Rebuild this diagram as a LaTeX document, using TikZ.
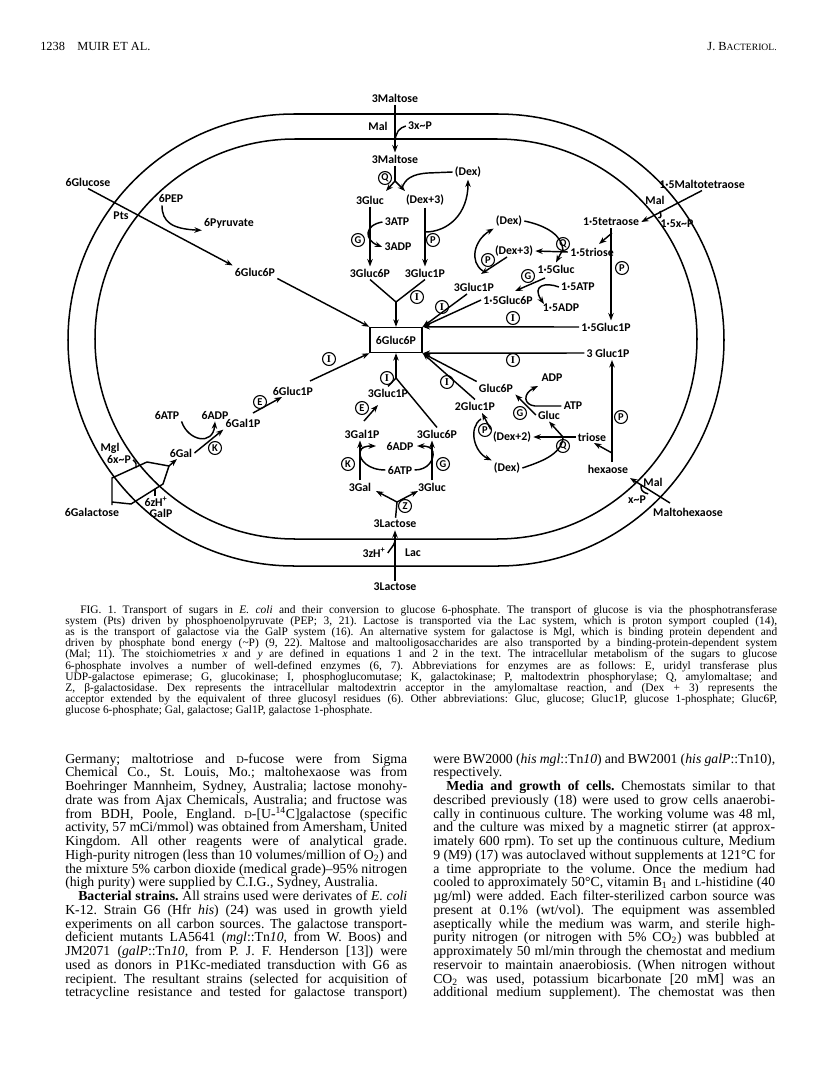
\documentclass[tikz,border=0pt]{standalone}
\usepackage{fontspec}
\setmainfont{Liberation Serif}
\newfontfamily\carl{Carlito}
\usetikzlibrary{arrows.meta,calc}
\frenchspacing
\newcommand\jline[2]{\makebox[#1][s]{#2}}
\newcommand\smD{{\fontsize{7.6}{9}\selectfont D}}
\newcommand\smL{{\fontsize{7.6}{9}\selectfont L}}
\newcommand\capw{517.6pt}
\newcommand\capf{506.7pt}
\newcommand\colw{248.6pt}
\newcommand\coli{239.2pt}
\begin{document}
\begin{tikzpicture}[x=0.727pt,y=-0.727pt,
  lab/.style={font=\carl\bfseries\fontsize{8.6}{10}\selectfont,inner sep=0.5pt,outer sep=1.2pt},
  enz/.style={circle,draw,line width=0.8pt,inner sep=0pt,minimum size=9.4pt,font=\carl\bfseries\fontsize{7.6}{7.6}\selectfont},
  ln/.style={line width=1.05pt},
  ar/.style={line width=1.05pt,-{Stealth[length=5.4pt,width=4pt]}},
  memb/.style={line width=1.1pt},
  txt/.style={anchor=base west,inner sep=0pt,font=\fontsize{10}{10}\selectfont},
  captxt/.style={anchor=base west,inner sep=0pt,font=\fontsize{8.3}{8.4}\selectfont},
  hdr/.style={anchor=base west,inner sep=0pt,font=\fontsize{9}{10}\selectfont},
]
\useasboundingbox (0,0) rectangle (816,1077);
\fill[white] (0,0) rectangle (816,1077);

% ---------- header ----------
\node[hdr] (pg) at (40,50) {1238};
\node[hdr] (au) at (77,50) {MUIR ET AL.};
\node[hdr,anchor=base east] (jn) at (777,50) {J. B{\fontsize{7}{8}\selectfont ACTERIOL.}};

% ---------- cell envelope ----------
\draw[memb] (294,114) -- (498,114) arc[start angle=-90,end angle=90,radius=226] -- (294,566) arc[start angle=90,end angle=270,radius=226] -- cycle;
\draw[memb] (295,139) -- (497,139) arc[start angle=-90,end angle=90,radius=200] -- (295,539) arc[start angle=90,end angle=270,radius=200] -- cycle;

% ---------- maltose (top) ----------
\node[lab] (maltO) at (395,98) {3Maltose};
\node[lab] (malT) at (378,126) {Mal};
\node[lab] (xpT) at (420,126) {3x\textasciitilde P};
\node[lab] (maltI) at (395,159) {3Maltose};
\node[enz] (qT) at (385,178) {Q};
\coordinate (splT) at (395,181);
\node[lab] (glc3) at (370,200) {3Gluc};
\node[lab] (dxp3) at (425,200) {(Dex+3)};
\node[lab] (dexT) at (468,172) {(Dex)};
\node[lab] (atp3) at (397,222) {3ATP};
\node[lab] (adp3) at (398,247) {3ADP};
\node[enz] (gT) at (358,240) {G};
\node[enz] (pT) at (433,240) {P};
\node[lab] (g6p3) at (370,273) {3Gluc6P};
\node[lab] (g1p3) at (425,273) {3Gluc1P};
\node[enz] (iT) at (417,297) {\rmfamily I};
\coordinate (mrgT) at (396,302);
\node[lab,draw,line width=1.05pt,minimum width=37.8pt,minimum height=18.2pt,outer sep=0.5pt] (box) at (396,340) {6Gluc6P};

\draw[ar] (maltO) -- (maltI);
\draw[ln] (xpT.west) .. controls (399,128) and (396,132) .. (395,141);
\draw[ln] (maltI) -- (splT);
\draw[ar] (splT) -- (386,191);
\draw[ar] (splT) -- (405,191);
\draw[ln] (dexT.west) -- (428,173) .. controls (412,174) and (405,179) .. (402,188);
\draw[ar] (glc3) -- (g6p3);
\draw[ar] (dxp3) -- (g1p3);
\draw[ar] (atp3.west) .. controls (364,225) and (364,240) .. (adp3.west);
\draw[ar] (425,232) .. controls (448,232) and (468,214) .. (dexT.south);
\draw[ln] (g6p3.south) -- (mrgT);
\draw[ln] (g1p3.south) -- (mrgT);
\draw[ar] (mrgT) -- (box);

% ---------- glucose (left) ----------
\node[lab] (glcO) at (88,182) {6Glucose};
\node[lab] (pts) at (121,216) {Pts};
\node[lab] (pep) at (171,199) {6PEP};
\node[lab] (pyr) at (229,223) {6Pyruvate};
\node[lab] (g6pL) at (255,272) {6Gluc6P};
\draw[ar] (glcO.south) -- (g6pL.north west);
\draw[ar] ([xshift=4pt]pep.south west) .. controls (162,222) and (172,229) .. (pyr.south west);
\draw[ar] (g6pL.south east) -- (box.north west);

% ---------- maltotetraose (upper right) ----------
\node[lab] (tetO) at (702,184) {1·5Maltotetraose};
\node[lab] (malR) at (655,200) {Mal};
\node[lab] (xpR) at (677,224) {1·5x\textasciitilde P};
\node[lab] (tet) at (611,222) {1·5tetraose};
\node[lab] (dexB) at (509,221) {(Dex)};
\node[lab] (dx3b) at (514,251) {(Dex+3)};
\node[lab] (tri15) at (592,252) {1·5triose};
\node[enz] (qM) at (563,244) {Q};
\node[enz] (pM) at (622,268) {P};
\node[lab] (gl15) at (556,269) {1·5Gluc};
\node[enz] (gM) at (528,276) {G};
\node[lab] (atp15) at (578,287) {1·5ATP};
\node[lab] (adp15) at (561,308) {1·5ADP};
\node[lab] (g1p3b) at (474,287) {3Gluc1P};
\node[enz] (pM2) at (488,260) {P};
\node[lab] (g6p15) at (508,300) {1·5Gluc6P};
\node[enz] (i2) at (442,307) {\rmfamily I};
\node[lab] (g1p15) at (606,327) {1·5Gluc1P};
\node[enz] (i3) at (513,318) {\rmfamily I};

\draw[ar] (tetO.south) -- (tet.east);
\draw[ln] (xpR.north west) .. controls (662,218) and (661,215) .. (660,211);
\draw[ar] (tet.south) -- (tet.south |- g1p15.north);
\draw[ar] (612,233) -- (599,244);
\draw[ar] (tri15.west) -- (dx3b.east);
\draw[ln] (dexB.east) .. controls (548,226) and (562,236) .. (563,250);
\draw[ar] (562,251) -- (gl15.north);
\draw[ar] (507,257) -- (481,274);
\draw[ar] (483,271) .. controls (469,262) and (474,240) .. (dexB.south west);
\draw[ar] (545,278) -- (515,291);
\draw[ar] (atp15.west) .. controls (546,282) and (531,285) .. (544,304);
\draw[ar] (467,294) -- (box.north east);
\draw[ar] (g6p15.west) -- (box.north east);
\draw[ar] (g1p15.west) -- (box.north east);

% ---------- maltohexaose (lower right) ----------
\node[lab] (g1p3c) at (608,353) {3 Gluc1P};
\node[enz] (i4) at (513,360) {\rmfamily I};
\node[lab] (g6pc) at (496,388) {Gluc6P};
\node[lab] (adpc) at (552,378) {ADP};
\node[lab] (atpc) at (573,406) {ATP};
\node[lab] (glcc) at (549,415) {Gluc};
\node[enz] (gc) at (520,413) {G};
\node[lab] (g1p2) at (475,406) {2Gluc1P};
\node[enz] (i5) at (447,382) {\rmfamily I};
\node[lab] (dx2) at (512,437) {(Dex+2)};
\node[enz] (pc) at (485,430) {P};
\node[lab] (tri) at (592,437) {triose};
\node[enz] (qc) at (563,446) {Q};
\node[lab] (dexC) at (507,468) {(Dex)};
\node[lab] (hex) at (608,469) {hexaose};
\node[enz] (pr) at (621,417) {P};
\node[lab] (hexO) at (688,512) {Maltohexaose};
\node[lab] (malH) at (653,482) {Mal};
\node[lab] (xpH) at (637,500) {x\textasciitilde P};

\draw[ar] (g1p3c.west) -- (box.south east);
\draw[ar] (g6pc.north west) -- (box.south east);
\draw[ar] (g1p2.north) -- (box.south east);
\draw[ar] (glcc.west) -- (g6pc.south east);
\draw[ar] (atpc.west) -- (535,406) .. controls (524,405) and (522,394) .. (538,386);
\draw[ar] (tri.west) -- (dx2.east);
\draw[ar] (563,437) -- (glcc.south);
\draw[ln] (dexC.east) .. controls (540,462) and (561,455) .. (563,438);
\draw[ar] (dx2.north west) -- (482,413);
\draw[ar] (481,419) .. controls (468,428) and (474,452) .. (dexC.north west);
\draw[ar] (612,462) -- (612,360);
\draw[ar] (612,453) -- (594,443);
\draw[ar] (670,503) -- (630,478);
\draw[ln] (xpH.north east) .. controls (641,492) and (641,489) .. (641,485);

% ---------- galactose (lower left) ----------
\node[lab] (g1p6) at (293,391) {6Gluc1P};
\node[enz] (i6) at (329,359) {\rmfamily I};
\node[lab] (gal1p6) at (243,423) {6Gal1P};
\node[enz] (e1) at (260,402) {E};
\node[lab] (adp6) at (215,415) {6ADP};
\node[lab] (atp6) at (167,415) {6ATP};
\node[lab] (gal6) at (181,453) {6Gal};
\node[enz] (k1) at (215,448) {K};
\node[lab] (galO) at (92,512) {6Galactose};
\node[lab] (mgl) at (110,448) {Mgl};
\node[lab] (xpM) at (119,459) {6x\textasciitilde P};
\node[lab] (zh6) at (156,502) {6zH\textsuperscript{+}};
\node[lab] (galp) at (161,513) {GalP};
\coordinate (galJ) at (169,466);

\draw[ar] (310,381) -- (box.south west);
\draw[ar] (253,413) -- (282,397);
\draw[ar] (gal6.east) -- (gal1p6.south west);
\draw[ar] (atp6.south east) .. controls (188,441) and (213,446) .. (adp6.south);
\draw[ln] (112,505) -- (112,478) -- (147,462) -- (galJ);
\draw[ln] (112,502) -- (131,504) -- (163,484) -- (galJ);
\draw[ar] (galJ) -- (177,459);
\draw[ln] (133,460) .. controls (136,462) and (137,465) .. (136,468);
\draw[ln] (155,496) .. controls (155,493) and (155,491) .. (155,489);

% ---------- lactose (bottom) ----------
\node[lab] (lacO) at (395,587) {3Lactose};
\node[lab] (lacI) at (395,524) {3Lactose};
\node[lab] (zh3) at (374,553) {3zH\textsuperscript{+}};
\node[lab] (lacL) at (413,553) {Lac};
\node[lab] (gal3) at (360,487) {3Gal};
\node[lab] (glc3b) at (432,487) {3Gluc};
\node[enz] (zz) at (405,506) {Z};
\node[lab] (gal1p3) at (362,434) {3Gal1P};
\node[lab] (g6p3d) at (437,434) {3Gluc6P};
\node[lab] (adp6b) at (400,446) {6ADP};
\node[lab] (atp6b) at (400,470) {6ATP};
\node[enz] (k2) at (348,464) {K};
\node[enz] (g2) at (443,464) {G};
\node[lab] (g1p3d) at (388,393) {3Gluc1P};
\node[enz] (e2) at (362,408) {E};
\node[enz] (i7) at (387,378) {\rmfamily I};
\coordinate (zs) at (397,502);
\coordinate (mrgB) at (396,378);

\draw[ar] (lacO) -- (lacI);
\draw[ln] (zh3.east) .. controls (390,549) and (394,546) .. (395,541);
\draw[ln] (lacI) -- (zs);
\draw[ar] (zs) -- (376,491);
\draw[ar] (zs) -- (418,491);
\draw[ar] (gal3.north) -- (gal3.north |- gal1p3.south);
\draw[ar] (glc3b.north) -- (glc3b.north |- g6p3d.south);
\draw[ar] (atp6b.west) .. controls (368,470) and (359,460) .. (360,452) .. controls (361,447) and (366,446) .. (376,446);
\draw[ar] (atp6b.east) .. controls (428,470) and (434,460) .. (433,452) .. controls (432,447) and (427,446) .. (417,446);
\draw[ar] (364,421) -- (378,405);
\draw[ln] (g1p3d.north) -- (mrgB);
\draw[ln] (g6p3d.north) -- (mrgB);
\draw[ar] (mrgB) -- (box);

% ---------- caption ----------
\node[captxt] (c1) at (80,613) {\jline{\capf}{FIG. 1. Transport of sugars in \textit{E. coli} and their conversion to glucose 6-phosphate. The transport of glucose is via the phosphotransferase}};
\node[captxt] (c2) at (65,624.2) {\jline{\capw}{system (Pts) driven by phosphoenolpyruvate (PEP; 3, 21). Lactose is transported via the Lac system, which is proton symport coupled (14),}};
\node[captxt] (c3) at (65,635.4) {\jline{\capw}{as is the transport of galactose via the GalP system (16). An alternative system for galactose is Mgl, which is binding protein dependent and}};
\node[captxt] (c4) at (65,646.6) {\jline{\capw}{driven by phosphate bond energy (\textasciitilde P) (9, 22). Maltose and maltooligosaccharides are also transported by a binding-protein-dependent system}};
\node[captxt] (c5) at (65,657.8) {\jline{\capw}{(Mal; 11). The stoichiometries \textit{x} and \textit{y} are defined in equations 1 and 2 in the text. The intracellular metabolism of the sugars to glucose}};
\node[captxt] (c6) at (65,669) {\jline{\capw}{6-phosphate involves a number of well-defined enzymes (6, 7). Abbreviations for enzymes are as follows: E, uridyl transferase plus}};
\node[captxt] (c7) at (65,680.2) {\jline{\capw}{UDP-galactose epimerase; G, glucokinase; I, phosphoglucomutase; K, galactokinase; P, maltodextrin phosphorylase; Q, amylomaltase; and}};
\node[captxt] (c8) at (65,691.4) {\jline{\capw}{Z, β-galactosidase. Dex represents the intracellular maltodextrin acceptor in the amylomaltase reaction, and (Dex + 3) represents the}};
\node[captxt] (c9) at (65,702.6) {\jline{\capw}{acceptor extended by the equivalent of three glucosyl residues (6). Other abbreviations: Gluc, glucose; Gluc1P, glucose 1-phosphate; Gluc6P,}};
\node[captxt] (c10) at (65,713.8) {glucose 6-phosphate; Gal, galactose; Gal1P, galactose 1-phosphate.};

% ---------- left column ----------
\node[txt] (l1) at (65,763) {\jline{\colw}{Germany; maltotriose and \smD-fucose were from Sigma}};
\node[txt] (l2) at (65,776.75) {\jline{\colw}{Chemical Co., St. Louis, Mo.; maltohexaose was from}};
\node[txt] (l3) at (65,790.5) {\jline{\colw}{Boehringer Mannheim, Sydney, Australia; lactose monohy-}};
\node[txt] (l4) at (65,804.25) {\jline{\colw}{drate was from Ajax Chemicals, Australia; and fructose was}};
\node[txt] (l5) at (65,818) {\jline{\colw}{from BDH, Poole, England. \smD-[U-\textsuperscript{14}C]galactose (specific}};
\node[txt] (l6) at (65,831.75) {\jline{\colw}{activity, 57 mCi/mmol) was obtained from Amersham, United}};
\node[txt] (l7) at (65,845.5) {\jline{\colw}{Kingdom. All other reagents were of analytical grade.}};
\node[txt] (l8) at (65,859.25) {\jline{\colw}{High-purity nitrogen (less than 10 volumes/million of O\textsubscript{2}) and}};
\node[txt] (l9) at (65,873) {\jline{\colw}{the mixture 5\% carbon dioxide (medical grade)–95\% nitrogen}};
\node[txt] (l10) at (65,886.75) {(high purity) were supplied by C.I.G., Sydney, Australia.};
\node[txt] (l11) at (78,900.5) {\jline{\coli}{\textbf{Bacterial strains.} All strains used were derivates of \textit{E. coli}}};
\node[txt] (l12) at (65,914.25) {\jline{\colw}{K-12. Strain G6 (Hfr \textit{his}) (24) was used in growth yield}};
\node[txt] (l13) at (65,928) {\jline{\colw}{experiments on all carbon sources. The galactose transport-}};
\node[txt] (l14) at (65,941.75) {\jline{\colw}{deficient mutants LA5641 (\textit{mgl}::Tn\textit{10}, from W. Boos) and}};
\node[txt] (l15) at (65,955.5) {\jline{\colw}{JM2071 (\textit{galP}::Tn\textit{10}, from P. J. F. Henderson [13]) were}};
\node[txt] (l16) at (65,969.25) {\jline{\colw}{used as donors in P1Kc-mediated transduction with G6 as}};
\node[txt] (l17) at (65,983) {\jline{\colw}{recipient. The resultant strains (selected for acquisition of}};
\node[txt] (l18) at (65,996.75) {\jline{\colw}{tetracycline resistance and tested for galactose transport)}};

% ---------- right column ----------
\node[txt] (r1) at (433,763) {\jline{\colw}{were BW2000 (\textit{his mgl}::Tn\textit{10}) and BW2001 (\textit{his galP}::Tn10),}};
\node[txt] (r2) at (433,776.75) {respectively.};
\node[txt] (r3) at (446,790.5) {\jline{\coli}{\textbf{Media and growth of cells.} Chemostats similar to that}};
\node[txt] (r4) at (433,804.25) {\jline{\colw}{described previously (18) were used to grow cells anaerobi-}};
\node[txt] (r5) at (433,818) {\jline{\colw}{cally in continuous culture. The working volume was 48 ml,}};
\node[txt] (r6) at (433,831.75) {\jline{\colw}{and the culture was mixed by a magnetic stirrer (at approx-}};
\node[txt] (r7) at (433,845.5) {\jline{\colw}{imately 600 rpm). To set up the continuous culture, Medium}};
\node[txt] (r8) at (433,859.25) {\jline{\colw}{9 (M9) (17) was autoclaved without supplements at 121°C for}};
\node[txt] (r9) at (433,873) {\jline{\colw}{a time appropriate to the volume. Once the medium had}};
\node[txt] (r10) at (433,886.75) {\jline{\colw}{cooled to approximately 50°C, vitamin B\textsubscript{1} and \smL-histidine (40}};
\node[txt] (r11) at (433,900.5) {\jline{\colw}{µg/ml) were added. Each filter-sterilized carbon source was}};
\node[txt] (r12) at (433,914.25) {\jline{\colw}{present at 0.1\% (wt/vol). The equipment was assembled}};
\node[txt] (r13) at (433,928) {\jline{\colw}{aseptically while the medium was warm, and sterile high-}};
\node[txt] (r14) at (433,941.75) {\jline{\colw}{purity nitrogen (or nitrogen with 5\% CO\textsubscript{2}) was bubbled at}};
\node[txt] (r15) at (433,955.5) {\jline{\colw}{approximately 50 ml/min through the chemostat and medium}};
\node[txt] (r16) at (433,969.25) {\jline{\colw}{reservoir to maintain anaerobiosis. (When nitrogen without}};
\node[txt] (r17) at (433,983) {\jline{\colw}{CO\textsubscript{2} was used, potassium bicarbonate [20 mM] was an}};
\node[txt] (r18) at (433,996.75) {\jline{\colw}{additional medium supplement). The chemostat was then}};
\end{tikzpicture}
\end{document}
